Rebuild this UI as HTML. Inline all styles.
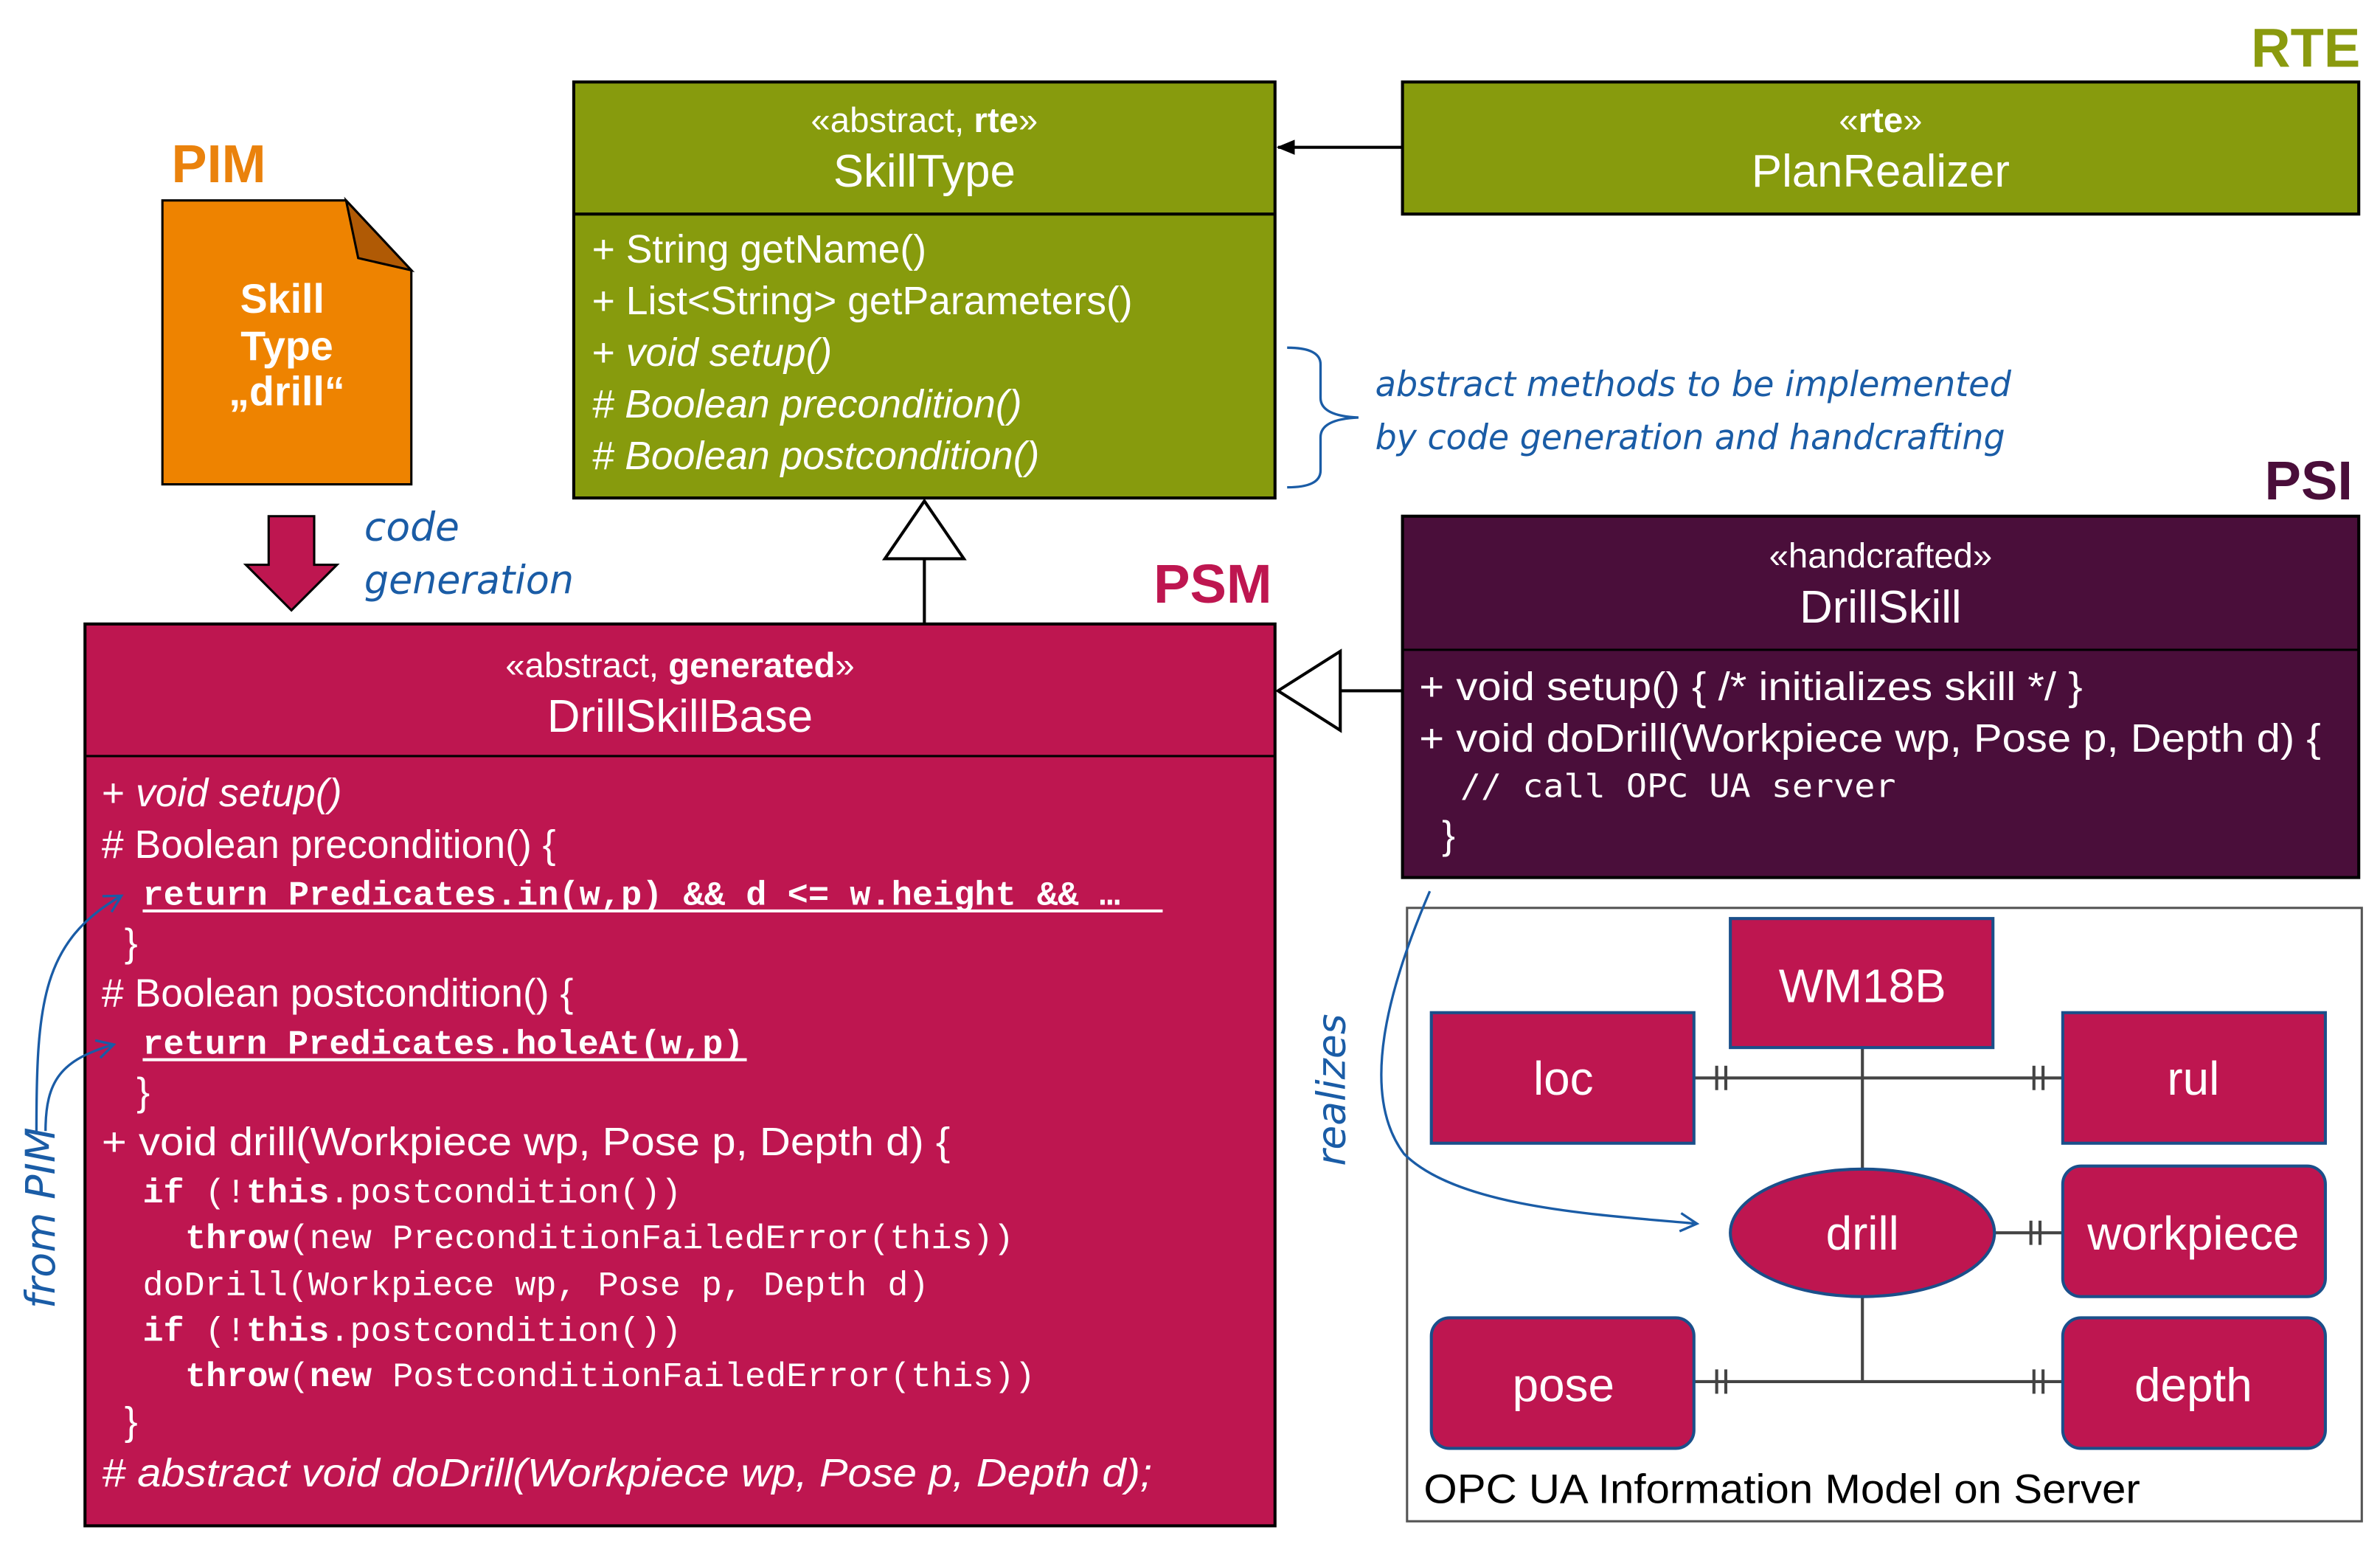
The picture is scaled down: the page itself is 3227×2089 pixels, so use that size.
<!DOCTYPE html>
<html><head><meta charset="utf-8"><style>html,body{margin:0;padding:0;background:#fff}svg{display:block}</style></head>
<body>
<svg width="3227" height="2089" viewBox="0 0 1568 1015" preserveAspectRatio="none" xmlns="http://www.w3.org/2000/svg" font-family="Liberation Sans, Arial, sans-serif">
<defs>
<marker id="fa" markerWidth="12" markerHeight="12" refX="11" refY="6" orient="auto" markerUnits="userSpaceOnUse"><path d="M0,1 L12,6 L0,11 z" fill="#000"/></marker>
<marker id="oa" markerWidth="14" markerHeight="14" refX="12" refY="7" orient="auto" markerUnits="userSpaceOnUse"><path d="M1,1 L12,7 L1,13" fill="none" stroke="#1a5ca6" stroke-width="1.6"/></marker>
</defs>
<rect width="1568" height="1015" fill="#fff"/>

<text x="1555" y="44" text-anchor="end" font-size="36" font-weight="bold" fill="#8a9a0e">RTE</text>
<text x="113" y="120" font-size="35" font-weight="bold" fill="#ea820c">PIM</text>
<text x="838" y="397" text-anchor="end" font-size="36" font-weight="bold" fill="#be1650">PSM</text>
<text x="1550" y="329" text-anchor="end" font-size="36" font-weight="bold" fill="#4a0e3a">PSI</text>

<rect x="378" y="54" width="462" height="274" fill="#879b0d" stroke="#000" stroke-width="2"/>
<line x1="378" y1="141" x2="840" y2="141" stroke="#000" stroke-width="2"/>
<text x="609" y="87" fill="#fff" font-size="23" text-anchor="middle">«abstract, <tspan font-weight="bold">rte</tspan>»</text>
<text x="609" y="123" font-size="30" fill="#fff" text-anchor="middle">SkillType</text>
<g fill="#fff" font-size="26">
<text x="390" y="173">+ String getName()</text>
<text x="390" y="207">+ List&lt;String&gt; getParameters()</text>
<text x="390" y="241">+ <tspan font-style="italic">void setup()</tspan></text>
<text x="390" y="275" font-style="italic"># Boolean precondition()</text>
<text x="390" y="309" font-style="italic"># Boolean postcondition()</text>
</g>

<rect x="924" y="54" width="630" height="87" fill="#879b0d" stroke="#000" stroke-width="2"/>
<text x="1239" y="87" font-size="23" fill="#fff" text-anchor="middle">«<tspan font-weight="bold">rte</tspan>»</text>
<text x="1239" y="123" font-size="30" fill="#fff" text-anchor="middle">PlanRealizer</text>
<line x1="924" y1="97" x2="842" y2="97" stroke="#000" stroke-width="2" marker-end="url(#fa)"/>

<path d="M848,229 Q870,229 870,240 L870,262 Q870,274 895,275 Q870,276 870,288 L870,310 Q870,321 848,321" fill="none" stroke="#1a5ca6" stroke-width="1.6"/>
<g fill="#1a5ca6" font-family="DejaVu Sans, Verdana, sans-serif" font-style="italic" font-size="23">
<text x="906" y="261" textLength="419" lengthAdjust="spacingAndGlyphs">abstract methods to be implemented</text>
<text x="906" y="296" textLength="415" lengthAdjust="spacingAndGlyphs">by code generation and handcrafting</text>
</g>

<path d="M107,132 L228,132 L271,178 L271,319 L107,319 z" fill="#ee8300" stroke="#000" stroke-width="1.5"/>
<path d="M228,132 L236,170 L271,178 z" fill="#b05a05" stroke="#000" stroke-width="1.5"/>
<g fill="#fff" font-size="27" font-weight="bold" text-anchor="middle">
<text x="186" y="206">Skill</text><text x="189" y="237">Type</text><text x="189" y="267">„drill“</text>
</g>

<path d="M177,340 L207,340 L207,372 L222,372 L192,402 L162,372 L177,372 z" fill="#be1650" stroke="#000" stroke-width="1.5"/>
<g fill="#1a5ca6" font-family="DejaVu Sans, Verdana, sans-serif" font-style="italic" font-size="26">
<text x="240" y="356">code</text><text x="240" y="391" textLength="138" lengthAdjust="spacingAndGlyphs">generation</text>
</g>

<line x1="609" y1="368" x2="609" y2="411" stroke="#000" stroke-width="2"/>
<path d="M609,330 L635,368 L583,368 z" fill="#fff" stroke="#000" stroke-width="2"/>

<rect x="56" y="411" width="784" height="594" fill="#be1650" stroke="#000" stroke-width="2"/>
<line x1="56" y1="498" x2="840" y2="498" stroke="#000" stroke-width="1.5"/>
<text x="448" y="446" font-size="23" fill="#fff" text-anchor="middle">«abstract, <tspan font-weight="bold">generated</tspan>»</text>
<text x="448" y="482" font-size="30" fill="#fff" text-anchor="middle">DrillSkillBase</text>
<g fill="#fff" font-size="26">
<text x="67" y="531">+ <tspan font-style="italic">void setup()</tspan></text>
<text x="67" y="565"># Boolean precondition() {</text>
<text x="82" y="630">}</text>
<text x="67" y="663"># Boolean postcondition() {</text>
<text x="90" y="728">}</text>
<text x="67" y="761" textLength="559" lengthAdjust="spacingAndGlyphs">+ void drill(Workpiece wp, Pose p, Depth d) {</text>
<text x="82" y="945">}</text>
<text x="67" y="979" font-style="italic" textLength="692" lengthAdjust="spacingAndGlyphs"># abstract void doDrill(Workpiece wp, Pose p, Depth d);</text>
</g>
<g fill="#fff" font-family="Liberation Mono, DejaVu Sans Mono, monospace" font-size="22.5">
<text x="94" y="596" font-weight="bold" textLength="644" lengthAdjust="spacingAndGlyphs">return Predicates.in(w,p) &amp;&amp; d &lt;= w.height &amp;&amp; …</text>
<text x="94" y="694" font-weight="bold" textLength="396" lengthAdjust="spacingAndGlyphs">return Predicates.holeAt(w,p)</text>
<text x="94" y="792" textLength="355" lengthAdjust="spacingAndGlyphs"><tspan font-weight="bold">if</tspan> (!<tspan font-weight="bold">this</tspan>.postcondition())</text>
<text x="122" y="822" textLength="546" lengthAdjust="spacingAndGlyphs"><tspan font-weight="bold">throw</tspan>(new PreconditionFailedError(this))</text>
<text x="94" y="853" textLength="518" lengthAdjust="spacingAndGlyphs">doDrill(Workpiece wp, Pose p, Depth d)</text>
<text x="94" y="883" textLength="355" lengthAdjust="spacingAndGlyphs"><tspan font-weight="bold">if</tspan> (!<tspan font-weight="bold">this</tspan>.postcondition())</text>
<text x="122" y="913" textLength="560" lengthAdjust="spacingAndGlyphs"><tspan font-weight="bold">throw</tspan>(<tspan font-weight="bold">new</tspan> PostconditionFailedError(this))</text>
</g>
<line x1="94" y1="600" x2="766" y2="600" stroke="#fff" stroke-width="2"/>
<line x1="94" y1="698" x2="492" y2="698" stroke="#fff" stroke-width="2"/>

<path d="M24,745 C24,660 28,620 80,590" fill="none" stroke="#1a5ca6" stroke-width="1.6" marker-end="url(#oa)"/>
<path d="M30,745 C30,712 40,698 75,688" fill="none" stroke="#1a5ca6" stroke-width="1.6" marker-end="url(#oa)"/>
<text transform="translate(36,862) rotate(-90)" fill="#1a5ca6" font-family="DejaVu Sans, Verdana, sans-serif" font-style="italic" font-size="27">from PIM</text>

<rect x="924" y="340" width="630" height="238" fill="#4a0e3a" stroke="#000" stroke-width="2"/>
<line x1="924" y1="428" x2="1554" y2="428" stroke="#000" stroke-width="1.5"/>
<text x="1239" y="374" font-size="23" fill="#fff" text-anchor="middle">«handcrafted»</text>
<text x="1239" y="410" font-size="30" fill="#fff" text-anchor="middle">DrillSkill</text>
<g fill="#fff" font-size="26">
<text x="935" y="461" textLength="437" lengthAdjust="spacingAndGlyphs">+ void setup() { /* initializes skill */ }</text>
<text x="935" y="495" textLength="594" lengthAdjust="spacingAndGlyphs">+ void doDrill(Workpiece wp, Pose p, Depth d) {</text>
<text x="950" y="559">}</text>
</g>
<text x="962" y="525" fill="#fff" font-family="DejaVu Sans Mono, Liberation Mono, monospace" font-size="21" textLength="287" lengthAdjust="spacingAndGlyphs">// call OPC UA server</text>
<line x1="924" y1="455" x2="883" y2="455" stroke="#000" stroke-width="2"/>
<path d="M842,455 L883,429 L883,481 z" fill="#fff" stroke="#000" stroke-width="2"/>

<rect x="927" y="598" width="629" height="404" fill="#fff" stroke="#555" stroke-width="1.5"/>
<text x="938" y="990" font-size="27" fill="#000" textLength="472" lengthAdjust="spacingAndGlyphs">OPC UA Information Model on Server</text>
<g stroke="#444" stroke-width="2" fill="none">
<line x1="1227" y1="690" x2="1227" y2="772"/>
<line x1="1116" y1="710" x2="1359" y2="710"/>
<line x1="1227" y1="852" x2="1227" y2="910"/>
<line x1="1116" y1="910" x2="1359" y2="910"/>
<line x1="1314" y1="812" x2="1359" y2="812"/>
<path d="M1131,702 v16 M1137,702 v16 M1340,702 v16 M1346,702 v16 M1131,902 v16 M1137,902 v16 M1340,902 v16 M1346,902 v16 M1338,804 v16 M1344,804 v16"/>
</g>
<g fill="#be1650" stroke="#1a4f8a" stroke-width="2">
<rect x="1140" y="605" width="173" height="85"/>
<rect x="943" y="667" width="173" height="86"/>
<rect x="1359" y="667" width="173" height="86"/>
<ellipse cx="1227" cy="812" rx="87" ry="42"/>
<rect x="1359" y="768" width="173" height="86" rx="12"/>
<rect x="943" y="868" width="173" height="86" rx="12"/>
<rect x="1359" y="868" width="173" height="86" rx="12"/>
</g>
<g fill="#fff" font-size="31" text-anchor="middle">
<text x="1227" y="660">WM18B</text>
<text x="1030" y="721">loc</text>
<text x="1445" y="721">rul</text>
<text x="1227" y="823">drill</text>
<text x="1445" y="823">workpiece</text>
<text x="1030" y="923">pose</text>
<text x="1445" y="923">depth</text>
</g>

<path d="M942,587 C915,650 895,720 925,760 C960,795 1050,800 1118,806" fill="none" stroke="#1a5ca6" stroke-width="1.6" marker-end="url(#oa)"/>
<text transform="translate(886,768) rotate(-90)" fill="#1a5ca6" font-family="DejaVu Sans, Verdana, sans-serif" font-style="italic" font-size="26">realizes</text>
</svg>
</body></html>
